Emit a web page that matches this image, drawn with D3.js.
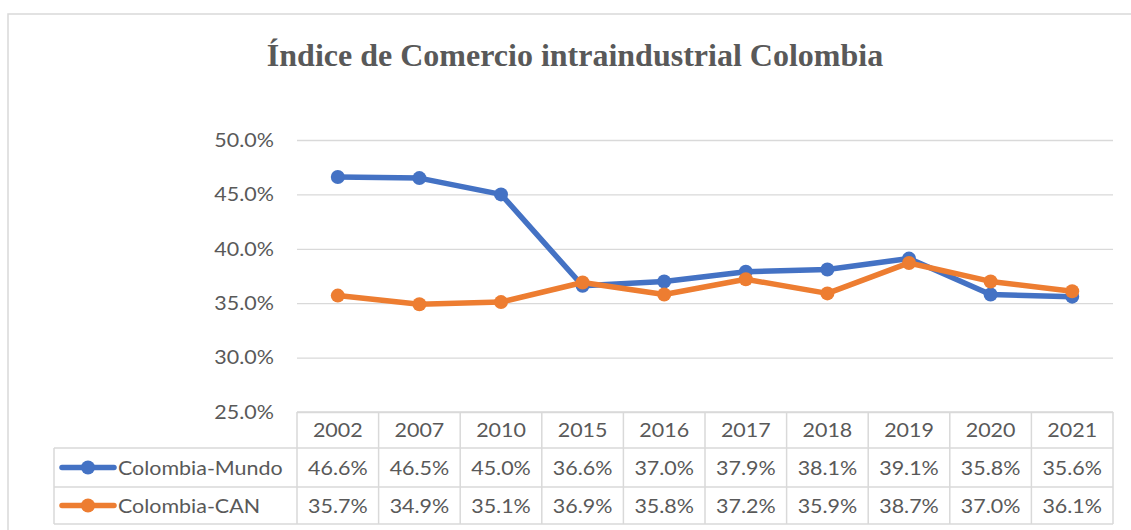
<!DOCTYPE html>
<html>
<head>
<meta charset="utf-8">
<script src="https://cdn.jsdelivr.net/npm/d3@7"></script>
<style>
  body { margin: 0; background: #fff; }
  text { font-family: Lato, "Open Sans", sans-serif; fill: #595959; }
</style>
</head>
<body>
<div id="chart"></div>
<script>
const width = 1131;
const height = 530;

// data
const years = ["2002", "2007", "2010", "2015", "2016", "2017", "2018", "2019", "2020", "2021"];
const mundo = [0.466, 0.465, 0.450, 0.366, 0.370, 0.379, 0.381, 0.391, 0.358, 0.356];
const can = [0.357, 0.349, 0.351, 0.369, 0.358, 0.372, 0.359, 0.387, 0.370, 0.361];
const seriesNames = ["Colombia-Mundo", "Colombia-CAN"];
const yTicks = [0.25, 0.30, 0.35, 0.40, 0.45, 0.50];

const colors = ["#4472C4", "#ED7D31"];
const series = [mundo, can].map((v, i) => ({ name: seriesNames[i], values: v, color: colors[i] }));

const fontSize = "19.5px";
const stretchX = 1.1; // the original font is a bit wider than Lato
const lineW = 5.5;
const dotR = 7;

// put a text at (px, py) and widen it a little
function place(sel, px, py) {
    sel.attr("x", 0).attr("y", 0)
        .attr("transform", (d, i) => "translate(" + px(d, i) + "," + py(d, i) + ") scale(" + stretchX + ",1)");
}

const svg = d3.select("#chart").append("svg")
    .attr("width", width)
    .attr("height", height);

// outer chart frame
svg.append("rect")
    .attr("x", 8).attr("y", 14)
    .attr("width", width).attr("height", height)
    .attr("fill", "none")
    .attr("stroke", "#d9d9d9")
    .attr("stroke-width", 1.5);

svg.append("text")
    .attr("x", 575).attr("y", 66)
    .attr("text-anchor", "middle")
    .style("font-family", "'Liberation Serif', 'Times New Roman', serif")
    .style("font-weight", "bold")
    .style("font-size", "32px")
    .text("Índice de Comercio intraindustrial Colombia");

//---------------------------SCALES---------------------------//
const x = d3.scaleBand().domain(years).range([297, 1113]);
const y = d3.scaleLinear().domain([0.25, 0.50]).range([412, 140]);
const cx = yr => x(yr) + x.bandwidth() / 2;

//----------------------------AXES----------------------------//
const yAxis = d3.axisLeft(y)
    .tickValues(yTicks)
    .tickFormat(d3.format(".1%"))
    .tickSize(-(1113 - 297))
    .tickPadding(21);

const gy = svg.append("g")
    .attr("transform", "translate(297,0)")
    .call(yAxis);
gy.select(".domain").remove();
gy.selectAll(".tick line").attr("stroke", "#d9d9d9").attr("stroke-width", 1.3);
gy.selectAll(".tick text")
    .style("font-size", fontSize)
    .attr("fill", "#595959")
    .attr("transform", "scale(" + stretchX + ",1)");

//----------------------------LINES---------------------------//
const line = d3.line()
    .x((d, i) => cx(years[i]))
    .y(d => y(d));

const lines = svg.selectAll("g.serie")
    .data(series)
    .join("g")
    .attr("class", "serie");

lines.append("path")
    .attr("d", d => line(d.values))
    .attr("fill", "none")
    .attr("stroke", d => d.color)
    .attr("stroke-width", lineW)
    .attr("stroke-linejoin", "round");

lines.selectAll("circle")
    .data(d => d.values.map(v => ({ v: v, color: d.color })))
    .join("circle")
    .attr("cx", (d, i) => cx(years[i]))
    .attr("cy", d => y(d.v))
    .attr("r", dotR)
    .attr("fill", d => d.color);

//----------------------------TABLE---------------------------//
const rowEdges = [412, 448, 487, 524];
const legendLeft = 54;
const table = svg.append("g");
const gridColor = "#d9d9d9";

// horizontal lines
table.append("line")
    .attr("x1", 297).attr("x2", 1113)
    .attr("y1", rowEdges[0]).attr("y2", rowEdges[0]);
rowEdges.slice(1).forEach(r => {
    table.append("line")
        .attr("x1", legendLeft).attr("x2", 1113)
        .attr("y1", r).attr("y2", r);
});
// vertical lines
table.append("line")
    .attr("x1", legendLeft).attr("x2", legendLeft)
    .attr("y1", rowEdges[1]).attr("y2", rowEdges[3]);
years.concat(["end"]).forEach((yr, i) => {
    const xx = i < years.length ? x(yr) : x.range()[1];
    table.append("line")
        .attr("x1", xx).attr("x2", xx)
        .attr("y1", rowEdges[0]).attr("y2", rowEdges[3]);
});
table.selectAll("line")
    .attr("stroke", gridColor)
    .attr("stroke-width", 1.5);

// header
table.selectAll("text.year")
    .data(years)
    .join("text")
    .attr("class", "year")
    .attr("text-anchor", "middle")
    .style("font-size", fontSize)
    .text(d => d)
    .call(place, d => cx(d), () => (rowEdges[0] + rowEdges[1]) / 2 + 7);

// value rows
const pct = d3.format(".1%");
series.forEach((s, r) => {
    const cy = (rowEdges[r + 1] + rowEdges[r + 2]) / 2;
    table.selectAll("text.val" + r)
        .data(s.values)
        .join("text")
        .attr("class", "val" + r)
        .attr("text-anchor", "middle")
        .style("font-size", fontSize)
        .text(d => pct(d))
        .call(place, (d, i) => cx(years[i]), () => cy + 7);

    // legend key
    table.append("line")
        .attr("x1", 62).attr("x2", 114)
        .attr("y1", cy).attr("y2", cy)
        .attr("stroke", s.color)
        .attr("stroke-width", lineW)
        .attr("stroke-linecap", "round");
    table.append("circle")
        .attr("cx", 88).attr("cy", cy)
        .attr("r", dotR)
        .attr("fill", s.color);
    table.append("text")
        .style("font-size", fontSize)
        .text(s.name)
        .call(place, () => 118, () => cy + 7);
});
</script>
</body>
</html>
